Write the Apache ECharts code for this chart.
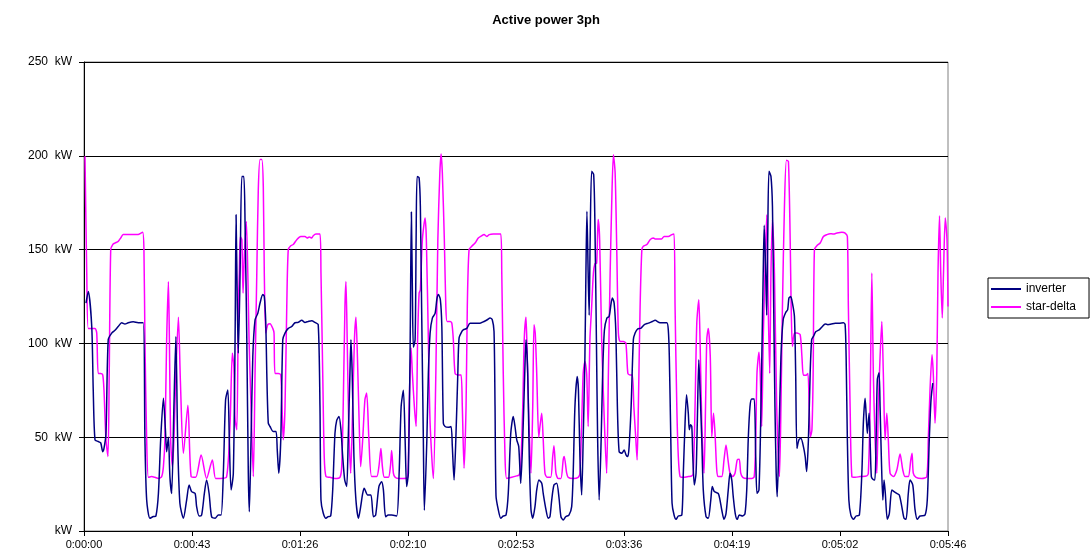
<!DOCTYPE html>
<html>
<head>
<meta charset="utf-8">
<script src="https://cdn.jsdelivr.net/npm/echarts@6/dist/echarts.min.js"></script>
<style>html,body{margin:0;padding:0;background:#fff;}#c{width:1092px;height:556px;}</style>
</head>
<body>
<div id="c"></div>
<script>
const chartTitle = 'Active power 3ph';
const seriesNames = ['inverter', 'star-delta'];
const xTickLabels = ['0:00:00','0:00:43','0:01:26','0:02:10','0:02:53','0:03:36','0:04:19','0:05:02','0:05:46'];
const yTickValues = [0, 50, 100, 150, 200, 250];

// inverter: time (s) and power (kW)
const inverterT = [0.8,1.7,3.1,3.7,4.4,5.7,6.7,7.5,8.0,8.8,9.7,11.1,12.4,13.7,15.1,16.4,17.7,19.7,21.7,23.7,24.4,25.1,26.4,27.8,28.8,29.8,30.7,31.8,32.6,33.1,33.8,34.4,35.1,36.0,36.8,37.5,38.4,39.8,41.1,42.1,43.1,44.5,45.1,46.1,47.1,48.2,49.1,50.1,51.1,52.5,53.8,54.9,55.8,56.7,57.6,58.2,58.9,59.8,60.5,60.9,61.4,61.8,62.5,63.2,64.0,64.5,65.2,65.8,66.2,66.9,67.6,68.5,69.6,70.5,71.6,72.2,72.8,73.2,73.8,74.5,75.8,76.9,77.4,78.0,78.8,79.6,80.5,81.8,83.2,84.5,85.8,87.2,88.5,89.8,91.2,92.5,93.8,94.5,94.9,95.8,96.9,97.8,98.8,99.6,100.5,101.2,102.1,102.9,103.6,104.4,105.2,105.8,106.5,106.9,107.4,108.1,108.9,109.9,110.8,111.6,112.2,113.6,114.9,115.9,116.8,118.1,119.2,119.9,120.8,121.9,123.2,125.2,126.2,127.0,127.9,128.6,129.2,129.9,130.6,131.1,131.5,131.9,132.6,133.0,133.4,134.2,134.7,135.2,135.9,136.3,137.3,137.9,138.6,139.5,140.6,141.3,141.9,142.7,143.3,143.9,144.6,145.9,147.0,147.5,148.2,148.9,149.7,150.2,151.3,151.9,153.3,154.6,156.6,158.6,160.2,161.5,162.6,163.5,164.2,164.6,165.0,165.9,166.9,167.9,169.0,169.9,170.9,171.9,172.6,173.3,174.1,174.9,175.7,176.5,177.0,177.7,178.3,179.0,179.7,180.6,181.3,182.2,183.3,183.9,185.0,185.9,186.6,187.3,188.2,189.3,190.2,191.0,191.9,192.9,194.2,195.3,195.9,196.6,197.5,198.0,198.6,199.3,199.9,200.6,201.0,201.4,201.9,202.3,202.7,203.3,204.1,204.6,205.2,205.7,206.3,207.1,207.7,208.4,209.4,210.3,211.1,211.6,212.3,213.0,213.6,214.3,215.4,216.3,217.1,217.8,218.3,219.1,220.0,220.7,221.7,223.1,224.4,226.0,227.6,228.7,230.7,233.4,234.0,234.4,235.0,235.5,236.3,237.1,238.0,239.4,240.0,240.7,241.3,242.0,242.4,242.9,243.4,243.8,244.4,245.1,245.6,246.2,246.7,247.4,248.0,249.1,250.0,251.0,251.6,252.4,254.0,254.7,255.4,256.3,257.1,258.0,258.7,259.4,260.0,260.8,261.6,262.4,263.8,264.7,265.4,266.0,266.7,267.4,268.4,269.0,269.5,270.3,271.1,272.0,272.4,273.0,273.4,273.8,274.3,275.1,275.7,276.2,276.7,277.2,277.6,278.3,279.1,280.0,281.0,281.8,282.3,283.0,283.7,284.5,285.0,285.5,286.3,287.1,288.1,288.8,289.4,290.1,290.8,291.4,292.1,293.1,294.4,295.7,296.8,297.9,299.2,300.8,302.4,304.1,304.8,305.2,305.7,306.3,307.1,308.1,309.2,310.5,311.5,312.1,312.8,313.2,313.7,314.4,314.8,315.3,315.9,316.7,317.2,317.7,318.4,318.8,319.3,319.9,320.4,320.9,321.7,322.5,323.5,324.4,325.5,326.5,327.5,328.4,329.2,330.1,330.8,331.9,332.8,333.7,334.8,336.8,337.7,338.5,339.2,339.9];
const inverterV = [121.5,127.7,109,75,48.6,47.7,47,42.3,44,52,102,105.5,107,109,111,110.3,111,111.5,111,111,48.6,16.5,6.8,7.7,8,20,48.6,70.8,54,42.3,50,29,20,66,103.7,48.6,14.8,6.8,16.5,24.5,21,20,13,8,8.5,20,27.2,20,7.6,6.8,8.5,8.5,30.8,70,75.2,48.6,21.9,30.8,102,168.6,119.7,94.8,137,189,189,164,102,30.8,10.3,48.6,93,112.6,116,121.5,126,125,110.8,84,57.5,55.7,53,53,43,30.8,48.6,102,105.5,108,109,111,111.2,112.3,111.2,111.7,112.1,111.2,110,66.2,16.5,9.6,6.8,7.7,8,22,52,59,61,54,39.7,27.2,23.7,48.6,84,102,84,39.7,16.5,6.8,13,20,22.8,19.2,19.2,7.6,8.5,23.7,26.3,21.9,7.6,8.5,8.5,8,30.8,66.2,75,48.6,23.7,30.8,98,170,128.6,98,101.9,155,189,188.2,173,119.7,48.6,11,48.6,84,105.5,113.5,116,123.4,126,123.4,109,57.5,55.7,55.3,55.7,45,27.2,48.6,84,102.8,106.3,107.2,108,110.8,110.8,110.8,111.7,112.6,113.5,112.6,106.3,66.9,18.7,11.4,6.8,8,8.5,20,52,61,55.7,48.6,45,25.4,48.6,84,102,84,39.7,11.4,6.8,13,21.9,27.2,25.4,20,11.4,6.8,7.7,16.5,24.5,25.4,18,7.6,5.9,7.6,8.5,13,30.8,66.2,82.4,75.2,39.7,19.2,48.6,93,137.5,170.4,137.5,115,155.3,191.7,190,164,102,48.6,16.5,48.6,84,107,113.5,114.4,121.5,124.2,121.5,105.5,66.2,42.3,41.4,43.2,40.5,39.7,45,66.2,102,105.5,107.7,108.2,110,110.8,111.7,112.3,111,111,107,93,48.6,14.8,8.5,6.2,8,8.5,30.8,57.5,72.6,62.8,54,56.6,55.7,39.7,24.5,30.8,57.5,91.3,75.2,48.6,21.9,7.6,6.8,16.5,23.7,21,20,16.5,11.2,6.2,9.3,21.9,30.8,27.2,18.3,9.3,6.2,8.5,8,9.3,21.9,48.6,66.2,70.3,70.3,39.7,20.1,21.9,66.2,137.5,163,137.5,115,155.3,191.7,189,173,119.7,66.2,30.8,18.3,48.6,93,112.6,116.5,118,124.2,125,121.5,114.4,84,44,48.6,49.5,45,39.7,31.7,48.6,84,102,103.7,106.3,107.2,109,110.3,110,110.3,110.8,110.8,111,110,93,48.6,16.5,8.5,6.2,8,8.5,30.8,57.5,70.8,62.8,52,62.8,48.6,29,27.6,27.2,48.6,80.8,84.4,66.2,39.7,16.5,27.2,20,6.2,9.3,21.9,21,20,19.2,13,6.8,6.2,20,27.2,24.5,11.4,6.2,8,8.5,16.5,48.6,70,78.8];

// star-delta: time (s) and power (kW)
const starDeltaT = [0.4,1.1,1.7,3.1,4.4,5.1,5.7,6.7,7.5,8.0,8.8,9.6,10.1,10.7,11.5,12.4,13.7,14.7,15.7,17.7,19.7,21.7,22.8,23.5,24.0,24.4,25.1,25.8,27.1,28.4,29.8,31.1,31.8,32.4,33.1,33.8,34.2,34.7,35.4,36.0,36.8,37.8,38.6,39.8,41.6,42.9,44.7,46.9,49.1,51.4,52.7,54.5,57.1,58.5,59.4,60.0,60.5,61.2,61.8,62.2,62.6,63.2,63.7,64.2,65.0,65.6,66.1,66.9,67.8,68.5,69.2,69.8,70.5,71.2,71.8,72.2,72.8,73.6,74.5,75.6,76.1,76.5,77.8,78.8,79.3,79.8,80.5,81.2,81.8,82.8,83.8,85.2,86.8,88.5,89.4,90.2,91.2,91.8,92.9,94.5,94.9,95.6,96.2,96.9,98.5,100.5,102.5,103.2,103.8,104.5,104.9,105.4,106.0,106.8,107.6,108.3,108.9,109.5,110.2,110.8,111.6,112.5,113.2,114.1,115.2,117.2,118.1,118.9,119.5,120.3,121.9,122.7,123.2,123.9,124.6,125.9,127.9,129.6,130.2,131.0,131.5,132.3,133.0,133.6,134.2,134.7,135.5,136.6,137.1,137.9,138.6,139.9,140.9,141.7,142.5,143.0,143.5,144.3,144.9,145.4,146.6,147.3,147.9,148.6,149.9,151.0,151.5,152.2,153.0,153.5,154.2,155.3,156.6,157.9,159.3,160.2,161.3,162.3,163.9,166.9,167.3,167.9,168.6,169.3,171.3,173.3,174.3,174.9,175.7,176.3,177.0,177.5,178.2,179.0,179.7,180.2,180.7,181.3,182.1,182.6,183.3,183.9,184.6,185.5,186.9,187.7,188.2,189.0,189.9,191.0,191.9,192.3,193.3,193.9,195.9,197.9,198.6,199.3,199.9,200.6,201.3,201.9,202.6,203.3,204.0,204.6,205.3,205.9,206.5,207.3,208.4,209.3,210.0,210.7,211.3,212.0,212.7,213.4,214.0,214.7,216.0,217.0,217.8,218.7,219.6,220.2,221.0,221.5,222.0,222.7,223.4,224.0,225.4,226.7,228.0,228.7,231.3,232.3,234.0,235.4,236.3,236.7,237.4,238.0,238.7,240.0,242.0,243.4,244.0,244.7,245.4,246.2,246.7,247.4,248.3,248.9,249.4,250.0,250.8,251.4,252.1,252.7,253.4,254.0,255.4,256.3,257.1,257.9,258.7,259.8,260.7,261.6,262.4,263.0,263.8,265.4,267.4,268.4,269.0,269.5,270.3,270.8,271.4,272.0,272.7,273.4,274.0,274.6,275.1,275.7,276.5,277.4,278.5,279.1,279.7,280.5,281.3,282.1,282.8,283.2,283.7,284.5,285.5,286.8,287.5,288.1,289.1,289.9,290.4,290.9,291.5,292.0,292.5,293.5,294.8,296.1,297.5,298.8,300.1,301.5,303.5,304.8,305.7,306.1,306.8,307.5,308.8,310.8,313.5,314.1,314.8,315.5,316.1,316.8,317.5,318.1,318.8,319.5,320.1,320.8,321.5,322.1,322.8,324.1,325.5,326.8,327.9,328.8,330.1,331.1,331.6,332.1,333.2,335.5,337.5,338.1,338.8,339.6,340.1,340.8,341.5,342.0,342.6,343.1,343.7,344.2,344.9,345.6,346.0];
const starDeltaV = [199.8,137.5,108,108,108,105.5,84,84,83.2,75.2,48.6,39.7,84,150,152.7,153.5,154.4,156.2,158,158,158,158,158.8,159.2,150,102,48.6,28.6,29,28.6,28,29,34.3,48.6,102,133,102,48.6,34.3,48.6,84,114,80,41.4,67,29,28.6,40.5,28,37.9,28,28,28.8,57.5,94.8,87.8,59.5,54,119.7,137.5,157,155.3,126.8,146.4,165,137.5,102,66.2,29,84,137.5,182,198,198,183.7,137.5,105.5,110,110.5,108,105.5,84,84,83.2,66.2,48.6,66.2,119.7,150,152.1,152.7,155.3,157,157,156.2,156.7,156.2,157.4,158.3,158.3,137.5,84,39.7,29,28.6,28,28.6,34.3,66.2,119.7,133,102,57.5,30.8,66.2,102,114,92.6,57.5,34.3,48.6,70,73.5,48.6,29,29,34.3,44,34.3,28.6,28.6,34.3,42.9,30.8,28.6,28,28,28.6,66.2,97.5,84,66.2,55.7,102,126.8,128.6,155.3,166.8,155.3,102,57.5,28,84,155.3,190.9,201,190.9,155.3,119.7,111.7,111.7,110.8,102,84,83.2,83.2,66.2,33.4,66.2,119.7,150,151.8,153.5,156.2,157.4,158,157,158,158.3,158.3,137.5,84,39.7,28,28.6,29.4,29.9,34.3,66.2,102,114,92.6,57.5,30.8,66.2,110,105.5,84,50,55.7,62.8,48.6,30.8,28.6,28.6,39.7,45.5,30.8,28,28,37.9,39.7,30.8,28.6,28,28.6,30.8,57.5,84,90.4,84,55.7,102,119.7,137.5,142.5,142.8,166,155.3,102,57.5,30.8,84,137.5,173,200.6,190.9,146.4,105.5,101,101,100.1,84,83.2,83.2,66.2,48.6,37.9,66.2,119.7,150,151.8,152.7,155.3,156.2,155.7,155.7,157,157,158,158.3,119.7,66.2,39.7,29,28.6,29,29.4,30.8,66.2,110.8,123.3,102,57.5,30.8,66.2,102,108,93,50.3,62.8,52,32.4,29,29,37.9,45.9,37.9,30.8,29,30.8,37.9,38.2,30.8,28.6,28,28,29,48.6,84,95.3,84,55.7,102,137.5,168.6,119.7,84,137.5,166,137.5,66.2,29,66.2,119.7,173,197.6,197,155.3,119.7,98.4,105.5,105.5,104.6,93,83,83,84,66.2,50.3,53.8,84,150,152.1,153.5,157,158,158.5,158.3,158.8,159.2,158.8,157,119.7,66.2,29,28.6,29,29.4,30.8,66.2,137.5,84,48.6,30.8,66.2,93,111.7,84,48.6,62.8,48.6,30.8,29,32.5,41,32.5,29,29,37.9,41.4,30.8,28.6,28,29,48.6,75.2,93.9,84,57.5,84,137.5,168,137.5,113.5,137.5,166.8,155.3,119.7];

function pairs(t, v) { return t.map((x, i) => [x, v[i]]); }

const chart = echarts.init(document.getElementById('c'), null, { renderer: 'canvas' });
const font = 'Liberation Sans, Arial, sans-serif';
chart.setOption({
  animation: false,
  backgroundColor: '#ffffff',
  title: {
    text: chartTitle, left: 'center', top: 9,
    textStyle: { fontFamily: font, fontSize: 13, fontWeight: 'bold', color: '#000' }
  },
  legend: {
    orient: 'vertical', left: 988, top: 278,
    data: seriesNames,
    icon: 'rect', itemWidth: 30, itemHeight: 2, itemGap: 6,
    borderColor: '#000', borderWidth: 1, padding: [5, 13, 5, 3],
    textStyle: { fontFamily: font, fontSize: 12, color: '#000' }
  },
  grid: {
    left: 84, top: 62, right: 144, bottom: 25,
    show: true, borderColor: '#808080', borderWidth: 1, backgroundColor: 'transparent'
  },
  xAxis: {
    type: 'value', min: 0, max: 346, interval: 43.25,
    axisLine: { show: true, onZero: false, lineStyle: { color: '#000', width: 1 } },
    axisTick: { show: true, length: 5, lineStyle: { color: '#000' } },
    axisLabel: {
      fontFamily: font, fontSize: 11, color: '#000', margin: 8,
      formatter: v => xTickLabels[Math.round(v / 43.25)]
    },
    splitLine: { show: false }
  },
  yAxis: {
    type: 'value', min: yTickValues[0], max: yTickValues[yTickValues.length - 1], interval: 50,
    axisLine: { show: true, lineStyle: { color: '#000', width: 1 } },
    axisTick: { show: true, length: 5, lineStyle: { color: '#000' } },
    axisLabel: {
      fontFamily: font, fontSize: 12, color: '#000', margin: 12,
      formatter: v => v === 0 ? 'kW' : v + '  kW'
    },
    splitLine: { show: true, lineStyle: { color: '#000', width: 1 } }
  },
  series: [
    {
      name: seriesNames[0], type: 'line', data: pairs(inverterT, inverterV),
      showSymbol: false, symbol: 'none', smooth: 0.25,
      lineStyle: { color: '#000080', width: 1.5 }, itemStyle: { color: '#000080' }, z: 3
    },
    {
      name: seriesNames[1], type: 'line', data: pairs(starDeltaT, starDeltaV),
      showSymbol: false, symbol: 'none', smooth: 0.25,
      lineStyle: { color: '#ff00ff', width: 1.5 }, itemStyle: { color: '#ff00ff' }, z: 2
    }
  ]
});
</script>
</body>
</html>
